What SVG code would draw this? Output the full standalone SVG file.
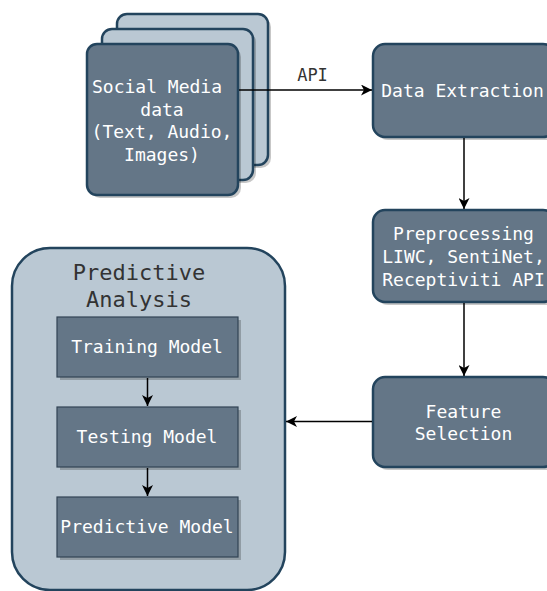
<svg xmlns="http://www.w3.org/2000/svg" width="547" height="591" viewBox="0 0 547 591">
<style>
.dark{fill:#647687;stroke:#23445d;stroke-width:2.5}
.light{fill:#bac8d3;stroke:#23445d;stroke-width:2.5}
.inner{fill:#647687;stroke:#314354;stroke-width:1.2}
.sh{fill:#000;opacity:0.22}
.t{font-family:"DejaVu Sans Mono","Liberation Mono",monospace;font-size:18px;fill:#ffffff;text-anchor:middle}
.title{font-family:"DejaVu Sans Mono","Liberation Mono",monospace;font-size:22px;fill:#333333;text-anchor:middle}
.lbl{font-family:"DejaVu Sans Mono","Liberation Mono",monospace;font-size:17px;fill:#333333;text-anchor:middle}
.edge{stroke:#000;stroke-width:1.5;fill:none;marker-end:url(#arr)}
</style>
<defs>
<marker id="arr" markerUnits="userSpaceOnUse" markerWidth="12" markerHeight="11" refX="11" refY="5.5" orient="auto">
<path d="M0,0 L11,5.5 L0,11 L3,5.5 Z" fill="#000"/>
</marker>
</defs>
<rect width="547" height="591" fill="#ffffff"/>

<g id="social-media">
<rect class="sh" x="120" y="17" width="151" height="151" rx="10"/>
<rect class="light" x="117" y="14" width="151" height="151" rx="10"/>
<rect class="sh" x="105" y="32" width="151" height="151" rx="10"/>
<rect class="light" x="102" y="29" width="151" height="151" rx="10"/>
<rect class="sh" x="90" y="47" width="151" height="151" rx="10"/>
<rect class="dark" x="87" y="44" width="151" height="151" rx="10"/>
<text class="t" x="157" y="93">Social Media</text>
<text class="t" x="162" y="115.5">data</text>
<text class="t" x="162" y="138">(Text, Audio,</text>
<text class="t" x="162" y="160.5">Images)</text>
</g>

<g id="data-extraction">
<rect class="sh" x="376" y="47" width="182" height="93" rx="12"/>
<rect class="dark" x="373" y="44" width="182" height="93" rx="12"/>
<text class="t" x="462.5" y="97">Data Extraction</text>
</g>

<g id="preprocessing">
<rect class="sh" x="376" y="213" width="182" height="92" rx="12"/>
<rect class="dark" x="373" y="210" width="182" height="92" rx="12"/>
<text class="t" x="463.5" y="240">Preprocessing</text>
<text class="t" x="463.5" y="263">LIWC, SentiNet,</text>
<text class="t" x="463.5" y="286">Receptiviti API</text>
</g>

<g id="feature-selection">
<rect class="sh" x="376" y="380" width="182" height="90" rx="12"/>
<rect class="dark" x="373" y="377" width="182" height="90" rx="12"/>
<text class="t" x="463.5" y="418">Feature</text>
<text class="t" x="463.5" y="440">Selection</text>
</g>

<g id="predictive-analysis">
<rect class="light" x="12" y="248" width="273" height="342" rx="38"/>
<text class="title" x="139" y="280">Predictive</text>
<text class="title" x="139" y="307">Analysis</text>
</g>

<g id="training-model">
<rect class="sh" x="60" y="320" width="181" height="60"/>
<rect class="inner" x="57" y="317" width="181" height="60"/>
<text class="t" x="147" y="353">Training Model</text>
</g>

<g id="testing-model">
<rect class="sh" x="60" y="410" width="181" height="60"/>
<rect class="inner" x="57" y="407" width="181" height="60"/>
<text class="t" x="147" y="443">Testing Model</text>
</g>

<g id="predictive-model">
<rect class="sh" x="60" y="500" width="181" height="60"/>
<rect class="inner" x="57" y="497" width="181" height="60"/>
<text class="t" x="147" y="533">Predictive Model</text>
</g>

<g id="connectors">
<line class="edge" x1="239" y1="90" x2="372" y2="90"/>
<text class="lbl" x="312.5" y="81">API</text>
<line class="edge" x1="464" y1="138" x2="464" y2="209"/>
<line class="edge" x1="464" y1="303" x2="464" y2="376"/>
<line class="edge" x1="372" y1="421.5" x2="286" y2="421.5"/>
<line class="edge" x1="147.5" y1="378" x2="147.5" y2="406"/>
<line class="edge" x1="147.5" y1="468" x2="147.5" y2="496"/>
</g>
</svg>
